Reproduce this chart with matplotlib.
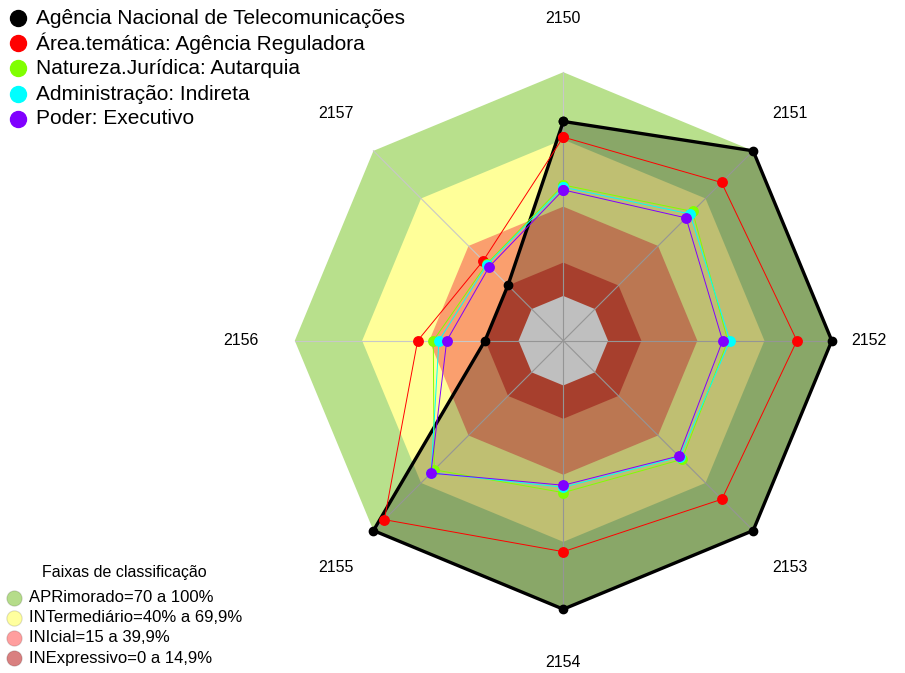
import numpy as np
import matplotlib.pyplot as plt

plt.rcParams['font.family'] = ['Liberation Sans', 'DejaVu Sans']

# eixos do radar
eixos = ["2150", "2151", "2152", "2153", "2154", "2155", "2156", "2157"]

# series (percentual 0-100)
series_nomes = ["Agência Nacional de Telecomunicações",
                "Área.temática: Agência Reguladora",
                "Natureza.Jurídica: Autarquia",
                "Administração: Indireta",
                "Poder: Executivo"]
agencia = [78, 100, 100, 100, 100, 100, 15, 15]
area_tematica = [71, 80, 84.4, 80.2, 74.3, 93.1, 45.1, 30.6]
natureza = [49.6, 61.7, 53.5, 55, 47.9, 61.6, 38.1, 28.5]
administracao = [48.6, 60.1, 54.5, 53.5, 45.5, 63.5, 35.6, 28.1]
poder = [47.4, 57.6, 51.2, 52.9, 44.6, 63.7, 32.1, 26.8]
series_cores = ["black", "#ff0000", "#80ff00", "#00ffff", "#8000ff"]

# faixas de classificacao
faixas_nomes = ["APRimorado=70 a 100%", "INTermediário=40% a 69,9%",
                "INIcial=15 a 39,9%", "INExpressivo=0 a 14,9%"]
faixas_limite = [100, 69.9, 39.9, 14.9]
faixas_cor = ["#b8e08c", "#ffff99", "#fa9f6e", "#e0553d"]
faixas_cor_legenda = ["#b5dc8a", "#ffff9e", "#ff9e9e", "#d98080"]


def escala(v):
    # centro nao-zero como no fmsb (seg=5)
    return 1 / 6 + np.asarray(v, dtype=float) / 100 * 5 / 6


ang = np.deg2rad(90 - 45 * np.arange(len(eixos)))


def xy(valores):
    r = escala(valores)
    x = r * np.cos(ang)
    y = r * np.sin(ang)
    return np.append(x, x[0]), np.append(y, y[0])


fig = plt.figure(figsize=(9.05, 6.73), dpi=100)
ax = fig.add_axes([0, 0, 1, 1])
R = 268.5
ax.set_xlim(-563.3 / R, (905 - 563.3) / R)
ax.set_ylim(-(673 - 340.7) / R, 340.7 / R)
ax.set_aspect('equal')
ax.axis('off')

# faixas
for lim, cor in zip(faixas_limite, faixas_cor):
    x, y = xy([lim] * len(eixos))
    ax.fill(x, y, color=cor, lw=0, zorder=1)
x, y = xy([0] * len(eixos))
ax.fill(x, y, color="white", lw=0, zorder=1)

# raios
for a in ang:
    ax.plot([0, np.cos(a)], [0, np.sin(a)], color="#c8c8c8", lw=0.8, zorder=2)

# preenchimento da agencia
x, y = xy(agencia)
ax.fill(x, y, color="black", alpha=0.25, lw=0, zorder=3)

# linhas das series
todas = [agencia, area_tematica, natureza, administracao, poder]
for i, (vals, cor) in enumerate(zip(todas, series_cores)):
    x, y = xy(vals)
    lw = 2.4 if i == 0 else 0.7
    ms = 6 if i == 0 else 6.8
    ax.plot(x, y, color=cor, lw=lw, marker='o', ms=ms, mec=cor, zorder=4 + i)

# rotulos dos eixos
dist = [1.2, 1.196, 1.138, 1.196, 1.2, 1.196, 1.2, 1.196]
for lab, a, d in zip(eixos, ang, dist):
    ax.text(d * np.cos(a), d * np.sin(a), lab, ha='center', va='center', fontsize=11.5)

# legendas (camada em pixels)
lg = fig.add_axes([0, 0, 1, 1], facecolor='none')
lg.set_xlim(0, 905)
lg.set_ylim(673, 0)
lg.axis('off')

ys = [18.3, 43, 68.3, 94, 118.5]
for nome, cor, yy in zip(series_nomes, series_cores, ys):
    lg.plot(17.5, yy, 'o', color=cor, ms=11.5)
    lg.text(36, yy, nome, va='center', ha='left', fontsize=15)

lg.text(124, 572, "Faixas de classificação", ha='center', va='center', fontsize=11.5)
ys = [597.7, 617.7, 637.7, 658.3]
for nome, cor, yy in zip(faixas_nomes, faixas_cor_legenda, ys):
    lg.plot(14, yy, 'o', color=cor, ms=11, mec="#00000022", mew=0.8)
    lg.text(29, yy, nome, va='center', ha='left', fontsize=12)

fig.savefig("out.png", dpi=100)
